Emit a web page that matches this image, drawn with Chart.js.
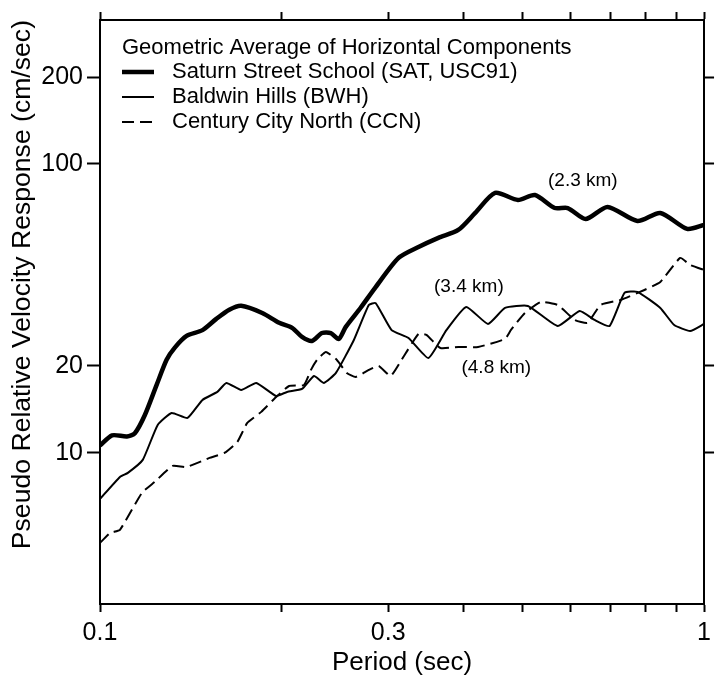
<!DOCTYPE html>
<html>
<head>
<meta charset="utf-8">
<script src="https://cdn.jsdelivr.net/npm/chart.js@4"></script>
<style>
    html, body { margin: 0; padding: 0; background: #fff; }
</style>
</head>
<body>
<canvas id="chart" width="717" height="676"></canvas>
<script>
// period (sec) and pseudo relative velocity (cm/sec)
var satPeriod = [0.100, 0.1047, 0.1108, 0.1142, 0.1186, 0.1241, 0.1289, 0.1329, 0.1391, 0.1478,
    0.1558, 0.1637, 0.1713, 0.1856, 0.1980, 0.2080, 0.2160, 0.2243, 0.2330, 0.2411,
    0.2485, 0.2552, 0.2701, 0.2860, 0.3121, 0.3367, 0.3632, 0.3918, 0.4180, 0.4509,
    0.4919, 0.5248, 0.5660, 0.5947, 0.6368, 0.6922, 0.7757, 0.8465, 0.9376, 1.0];
var satPsv = [10.6, 11.5, 11.4, 11.7, 13.5, 17.2, 21.0, 23.1, 25.4, 26.6,
    29.1, 31.3, 32.3, 30.5, 28.2, 27.1, 25.2, 24.4, 26.0, 26.0,
    24.8, 27.3, 31.8, 37.5, 47.3, 51.6, 55.5, 59.1, 67.7, 79.4,
    75.1, 78.1, 70.4, 70.4, 64.5, 71.0, 63.5, 67.7, 59.6, 61.5];

var bwhPeriod = [0.100, 0.1079, 0.1112, 0.1177, 0.1246, 0.1314, 0.1396, 0.1478, 0.1564, 0.1619,
    0.1713, 0.1814, 0.1957, 0.2040, 0.2160, 0.2261, 0.2348, 0.2458, 0.2632, 0.2786,
    0.2860, 0.3039, 0.3241, 0.3497, 0.3745, 0.4039, 0.4389, 0.4682, 0.5110, 0.5725,
    0.6224, 0.6589, 0.6975, 0.7384, 0.7757, 0.8465, 0.8925, 0.9484, 1.0];
var bwhPsv = [6.93, 8.26, 8.53, 9.46, 12.5, 13.75, 13.22, 15.26, 16.26, 17.47,
    16.52, 17.47, 15.75, 16.26, 16.65, 18.47, 17.47, 18.92, 24.6, 32.5,
    33.0, 26.6, 25.0, 21.3, 26.6, 32.0, 27.95, 31.75, 32.26, 27.5,
    31.0, 28.86, 27.5, 35.8, 36.1, 31.75, 27.7, 26.4, 27.95];

var ccnPeriod = [0.100, 0.1039, 0.1079, 0.1173, 0.1232, 0.1319, 0.1391, 0.1518, 0.1607, 0.1688,
    0.1753, 0.1849, 0.1957, 0.2056, 0.2176, 0.2235, 0.2287, 0.2366, 0.2467, 0.2562,
    0.2651, 0.2786, 0.2893, 0.3027, 0.3156, 0.3367, 0.3470, 0.3660, 0.3918, 0.4227,
    0.4682, 0.4790, 0.5052, 0.5368, 0.5725, 0.6106, 0.6414, 0.6741, 0.7272, 0.7966,
    0.8465, 0.9130, 0.9484, 1.0];
var ccnPsv = [4.88, 5.28, 5.42, 7.27, 7.94, 9.02, 8.94, 9.61, 10.0, 10.92,
    12.7, 13.87, 15.62, 17.05, 17.19, 19.38, 20.98, 22.36, 20.98, 18.92,
    18.32, 19.38, 20.0, 18.46, 20.98, 25.81, 25.6, 23.08, 23.27, 23.27,
    24.8, 26.64, 30.51, 33.3, 32.52, 28.86, 28.18, 32.52, 33.83, 36.64,
    39.06, 47.28, 44.72, 42.97];

var seriesNames = ['Saturn Street School (SAT, USC91)', 'Baldwin Hills (BWH)', 'Century City North (CCN)'];
var legendTitle = 'Geometric Average of Horizontal Components';

var periodTicks = [0.1, 0.2, 0.3, 0.4, 0.5, 0.6, 0.7, 0.8, 0.9, 1];
var periodLabels = [0.1, 0.3, 1];
var psvTicks = [10, 20, 100, 200];

// distance notes, placed in data units
var distLabels = ['(2.3 km)', '(3.4 km)', '(4.8 km)'];
var distPeriod = [0.630, 0.408, 0.453];
var distPsv = [87.3, 37.5, 19.7];

var FONT = '"Liberation Sans", Arial, Helvetica, sans-serif';

function toPoints(xs, ys) {
    var out = [];
    for (var i = 0; i < xs.length; i++) {
        out.push({x: xs[i], y: ys[i]});
    }
    return out;
}

function fixTicks(list) {
    return function (scale) {
        scale.ticks = list.map(function (v) { return {value: v}; });
    };
}

var frameGrid = function (len) {
    return {drawOnChartArea: false, drawTicks: true, tickLength: len, tickWidth: 2, tickColor: '#000'};
};
var frameBorder = {display: true, color: '#000', width: 2};

var overlay = {
    id: 'overlay',
    afterDatasetsDraw: function (chart) {
        var ctx = chart.ctx;
        var xs = chart.scales.x, ys = chart.scales.y;
        ctx.save();
        ctx.fillStyle = '#000';
        ctx.strokeStyle = '#000';
        ctx.textBaseline = 'middle';
        ctx.textAlign = 'left';
        ctx.font = '22px ' + FONT;
        ctx.fillText(legendTitle, 122, 48);
        chart.data.datasets.forEach(function (ds, i) {
            var y = 72 + i * 25;
            ctx.beginPath();
            ctx.lineWidth = ds.borderWidth;
            ctx.setLineDash(ds.borderDash || []);
            ctx.moveTo(122, y);
            ctx.lineTo(154, y);
            ctx.stroke();
            ctx.setLineDash([]);
            ctx.fillText(ds.label, 172, y);
        });
        // distance notes
        ctx.textAlign = 'center';
        ctx.font = '19px ' + FONT;
        for (var k = 0; k < distLabels.length; k++) {
            ctx.fillText(distLabels[k], xs.getPixelForValue(distPeriod[k]), ys.getPixelForValue(distPsv[k]));
        }
        ctx.restore();
    }
};

var ctx = document.getElementById('chart').getContext('2d');
var chart = new Chart(ctx, {
    type: 'line',
    data: {
        datasets: [
            {label: seriesNames[0], data: toPoints(satPeriod, satPsv), borderColor: '#000', borderWidth: 4.5, tension: 0.25},
            {label: seriesNames[1], data: toPoints(bwhPeriod, bwhPsv), borderColor: '#000', borderWidth: 2, tension: 0.15},
            {label: seriesNames[2], data: toPoints(ccnPeriod, ccnPsv), borderColor: '#000', borderWidth: 2, borderDash: [12, 6], tension: 0.15}
        ]
    },
    options: {
        responsive: false,
        animation: false,
        devicePixelRatio: 1,
        layout: {padding: 0},
        elements: {point: {radius: 0}, line: {borderJoinStyle: 'round', fill: false}},
        plugins: {legend: {display: false}, tooltip: {enabled: false}},
        scales: {
            x: {
                type: 'logarithmic', position: 'bottom', min: 0.1, max: 1,
                afterBuildTicks: fixTicks(periodTicks),
                afterFit: function (s) { s.height = 72; },
                ticks: {
                    autoSkip: false, maxRotation: 0, color: '#000', padding: 6,
                    font: {family: FONT, size: 25},
                    callback: function (v) { return periodLabels.indexOf(v) >= 0 ? String(v) : ''; }
                },
                grid: frameGrid(8),
                border: frameBorder,
                title: {display: true, text: 'Period (sec)', color: '#000',
                    font: {family: FONT, size: 26, lineHeight: 1}, padding: {top: 0, bottom: 0}}
            },
            x2: {
                type: 'logarithmic', position: 'top', min: 0.1, max: 1,
                afterBuildTicks: fixTicks(periodTicks),
                afterFit: function (s) { s.height = 20; },
                ticks: {display: false},
                grid: frameGrid(8),
                border: frameBorder
            },
            y: {
                type: 'logarithmic', position: 'left', min: 3, max: 315,
                afterBuildTicks: fixTicks(psvTicks),
                afterFit: function (s) { s.width = 100; },
                ticks: {
                    color: '#000', padding: 4,
                    font: {family: FONT, size: 25},
                    callback: function (v) { return String(v); }
                },
                grid: frameGrid(13),
                border: frameBorder,
                title: {display: true, text: 'Pseudo Relative Velocity Response (cm/sec)', color: '#000', align: 'end',
                    font: {family: FONT, size: 26.6, lineHeight: 1}, padding: {top: 9, bottom: 0}}
            },
            y2: {
                type: 'logarithmic', position: 'right', min: 3, max: 315,
                afterBuildTicks: fixTicks(psvTicks),
                afterFit: function (s) { s.width = 10; },
                ticks: {display: false},
                grid: frameGrid(10),
                border: frameBorder
            }
        }
    },
    plugins: [overlay]
});
</script>
</body>
</html>
